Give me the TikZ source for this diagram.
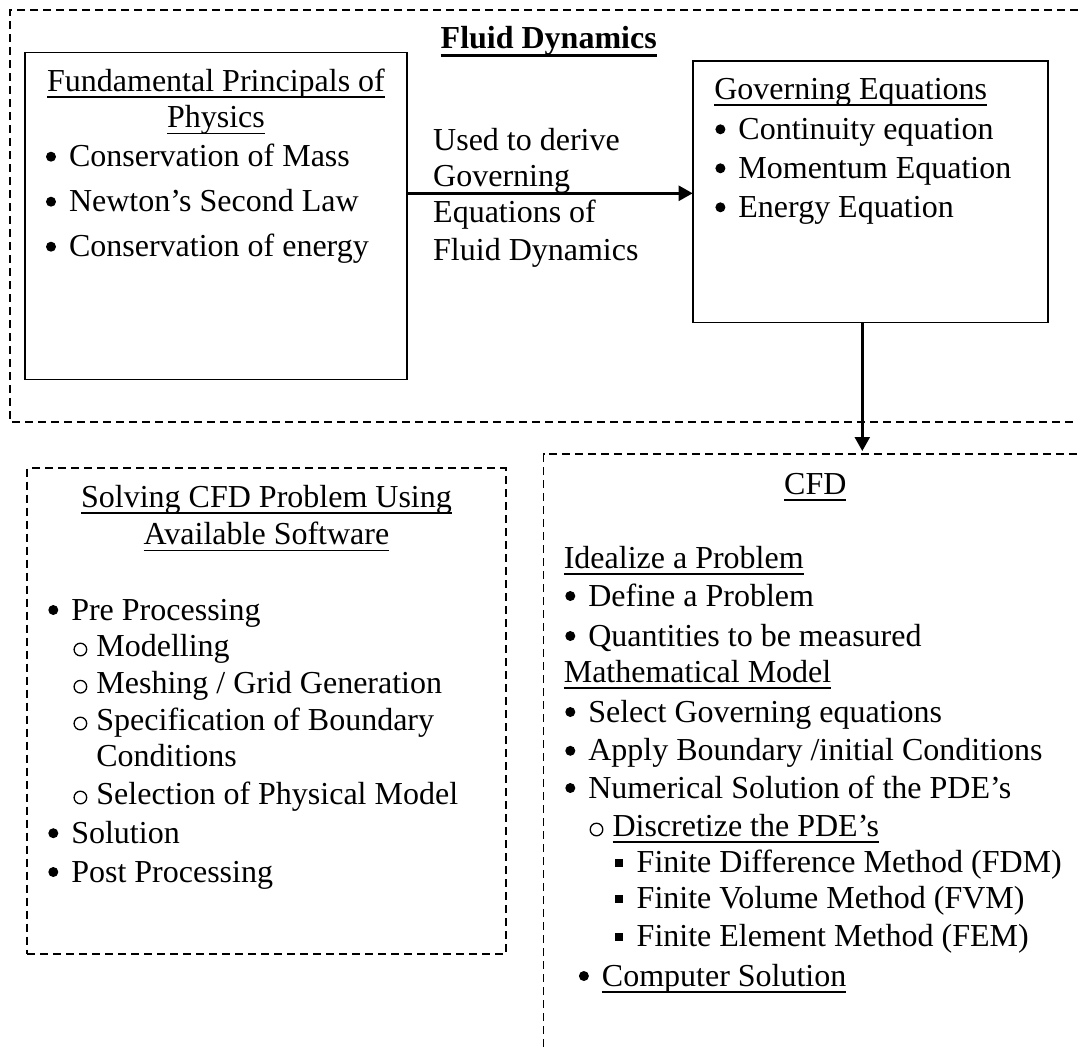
\documentclass[tikz,border=0pt]{standalone}
\usepackage{fontspec}
\setmainfont{Liberation Serif}
\usetikzlibrary{arrows.meta}

% underlined text with a fixed rule position below the baseline
\newcommand\myul[1]{\setbox0=\hbox{#1}\rlap{\rule[-6.5pt]{\wd0}{1.5pt}}\box0}
\newcommand\myulb[1]{\setbox0=\hbox{#1}\rlap{\rule[-9.4pt]{\wd0}{3pt}}\box0}

% list entries: {name}{text x}{baseline y}{text}
\newcommand\bitem[4]{%
  \fill (#2-18,#3-10) circle[radius=5pt];
  \node[txt] (#1) at (#2,#3) {#4};}
\newcommand\oitem[4]{%
  \draw[line width=1.3pt] (#2-16,#3-6.5) ellipse[x radius=6.3pt, y radius=6.3pt];
  \node[txt] (#1) at (#2,#3) {#4};}
\newcommand\sitem[4]{%
  \fill (#2-21.3,#3-13) rectangle (#2-13.3,#3-5);
  \node[txt] (#1) at (#2,#3) {#4};}

\begin{document}
\begin{tikzpicture}[x=1pt,y=-1pt,
  txt/.style={anchor=base west, inner sep=0pt, outer sep=0pt, font=\fontsize{32}{38}\selectfont},
  ctxt/.style={txt, anchor=base},
  solidbox/.style={draw, line width=1.6pt, anchor=north west, inner sep=0pt, outer sep=0pt},
  dashbox/.style={solidbox, line width=1.8pt, dash pattern=on 8pt off 5pt},
  dashframe/.style={line width=1.8pt, dash pattern=on 8pt off 5pt},
  conn/.style={line width=2.4pt, -{Triangle[length=14pt,width=15pt]}}]
\useasboundingbox (0,0) rectangle (1078,1047);
\fill[white] (0,0) rectangle (1078,1047);

% ---------- Fluid Dynamics frame ----------
\draw[dashframe] (1078,10) -- (10,10) -- (10,421.7) -- (1078,421.7);
\node[txt, font=\bfseries\fontsize{32}{38}\selectfont] (fdtitle) at (440.7,48) {\myulb{Fluid Dynamics}};

% principles box
\node[solidbox, minimum width=381.7pt, minimum height=327pt] (phys) at (25,52.3) {};
\node[ctxt] (physT1) at (216,91) {\myul{Fundamental Principals of}};
\node[ctxt] (physT2) at (216,127.5) {\myul{Physics}};
\bitem{p1}{69}{166.7}{Conservation of Mass}
\bitem{p2}{69}{211.7}{Newton’s Second Law}
\bitem{p3}{69}{256.7}{Conservation of energy}

% governing equations box
\node[solidbox, minimum width=355.2pt, minimum height=261.6pt] (gov) at (692.7,60.7) {};
\node[txt] (govT) at (714.3,99.3) {\myul{Governing Equations}};
\bitem{g1}{738.4}{139.3}{Continuity equation}
\bitem{g2}{738.4}{178.3}{Momentum Equation}
\bitem{g3}{738.4}{217.3}{Energy Equation}

% connector label
\node[txt] (lbl1) at (433.2,150.7) {Used to derive};
\node[txt] (lbl2) at (433.2,186.7) {Governing};
\node[txt] (lbl3) at (433.2,222.7) {Equations of};
\node[txt] (lbl4) at (433.2,260) {Fluid Dynamics};

% connectors
\coordinate (hArrow) at (0,193.3);
\draw[conn] (phys.east |- hArrow) -- (gov.west |- hArrow);
\coordinate (cfdIn) at (862.3,451);
\draw[conn] (gov.south -| cfdIn) -- (cfdIn);

% ---------- software box ----------
\node[dashbox, minimum width=478.4pt, minimum height=486pt] (solve) at (27.3,468.3) {};
\node[ctxt] (solveT1) at (266.5,507.2) {\myul{Solving CFD Problem Using}};
\node[ctxt] (solveT2) at (266.5,544.8) {\myul{Available Software}};
\bitem{s1}{71.3}{620}{Pre Processing}
\oitem{s2}{96.4}{656}{Modelling}
\oitem{s3}{96.4}{693.2}{Meshing / Grid Generation}
\oitem{s4}{96.4}{730}{Specification of Boundary}
\node[txt] (s4b) at (96.4,766) {Conditions};
\oitem{s5}{96.4}{804}{Selection of Physical Model}
\bitem{s6}{71.3}{843.2}{Solution}
\bitem{s7}{71.3}{882}{Post Processing}

% ---------- CFD frame ----------
\draw[dashframe] (543.5,1047) -- (543.5,454.3) -- (1078,454.3);
\node[ctxt] (cfdT) at (815.3,494) {\myul{CFD}};
\node[txt] (c1) at (563.8,568) {\myul{Idealize a Problem}};
\bitem{c2}{588.3}{606}{Define a Problem}
\bitem{c3}{588.3}{646}{Quantities to be measured}
\node[txt] (c4) at (563.8,682) {\myul{Mathematical Model}};
\bitem{c5}{588.3}{722}{Select Governing equations}
\bitem{c6}{588.3}{760.8}{Apply Boundary /initial Conditions}
\bitem{c7}{588.3}{798}{Numerical Solution of the PDE’s}
\oitem{c8}{612.5}{836}{\myul{Discretize the PDE’s}}
\sitem{c9}{636.7}{872}{Finite Difference Method (FDM)}
\sitem{c10}{636.7}{908}{Finite Volume Method (FVM)}
\sitem{c11}{636.7}{946}{Finite Element Method (FEM)}
\bitem{c12}{601.9}{986}{\myul{Computer Solution}}
\end{tikzpicture}
\end{document}
